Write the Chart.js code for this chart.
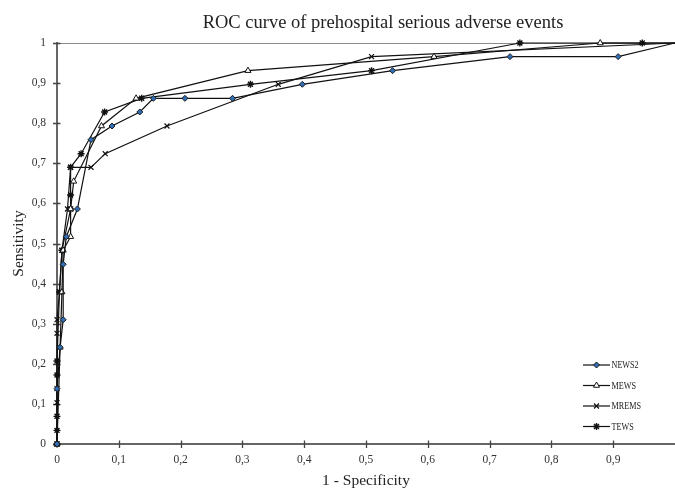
<!DOCTYPE html>
<html><head><meta charset="utf-8">
<script src="https://cdn.jsdelivr.net/npm/chart.js@4"></script>
<style>html,body{margin:0;padding:0;background:#fff}#wrap{width:675px;height:492px}</style>
</head><body><div id="wrap"><canvas id="c" width="675" height="492"></canvas></div>
<script>
const seriesNames = ['NEWS2', 'MEWS', 'MREMS', 'TEWS'];

const news2X = [0, 0, 0.005, 0.010, 0.010, 0.015, 0.033, 0.055, 0.089, 0.134, 0.156, 0.207, 0.284, 0.397, 0.543, 0.733, 0.908, 1];
const news2Y = [0, 0.138, 0.241, 0.310, 0.448, 0.517, 0.586, 0.759, 0.793, 0.828, 0.862, 0.862, 0.862, 0.897, 0.931, 0.966, 0.966, 1];

const mewsX = [0, 0.005, 0.008, 0.010, 0.022, 0.022, 0.027, 0.072, 0.128, 0.309, 0.610, 0.879, 1];
const mewsY = [0, 0.241, 0.379, 0.483, 0.517, 0.586, 0.655, 0.793, 0.862, 0.931, 0.966, 1, 1];

const mremsX = [0, 0, 0, 0, 0, 0.004, 0.008, 0.017, 0.022, 0.055, 0.078, 0.178, 0.358, 0.509, 1];
const mremsY = [0, 0.103, 0.138, 0.276, 0.310, 0.379, 0.483, 0.586, 0.690, 0.690, 0.724, 0.793, 0.897, 0.966, 1];

const tewsX = [0, 0, 0, 0, 0, 0.004, 0.008, 0.022, 0.022, 0.022, 0.039, 0.077, 0.137, 0.313, 0.509, 0.749, 0.947, 1];
const tewsY = [0, 0.034, 0.069, 0.172, 0.207, 0.379, 0.483, 0.586, 0.621, 0.690, 0.724, 0.828, 0.862, 0.897, 0.931, 1, 1, 1];

const xTickLabels = ['0', '0,1', '0,2', '0,3', '0,4', '0,5', '0,6', '0,7', '0,8', '0,9'];
const yTickLabels = ['0', '0,1', '0,2', '0,3', '0,4', '0,5', '0,6', '0,7', '0,8', '0,9', '1'];
const titleText = 'ROC curve of prehospital serious adverse events';
const xTitleText = '1 - Specificity';
const yTitleText = 'Sensitivity';

const FONT = '"Liberation Serif", "Times New Roman", serif';

function pts(xs, ys) { return xs.map((x, i) => ({ x: x, y: ys[i] })); }

const styles = [
  { pointStyle: 'rectRot', radius: 3, bg: '#2f6db5', border: '#1a1a1a', bw: 1 },
  { pointStyle: 'triangle', radius: 3.5, bg: '#ffffff', border: '#111111', bw: 1 },
  { pointStyle: 'crossRot', radius: 3.5, bg: '#111111', border: '#111111', bw: 1.2 },
  { pointStyle: 'star', radius: 3.5, bg: '#111111', border: '#111111', bw: 1.4 }
];
const seriesData = [pts(news2X, news2Y), pts(mewsX, mewsY), pts(mremsX, mremsY), pts(tewsX, tewsY)];

const datasets = seriesNames.map((name, k) => ({
  label: name,
  data: seriesData[k],
  borderColor: '#111111',
  borderWidth: 1.2,
  tension: 0,
  fill: false,
  clip: false,
  pointStyle: styles[k].pointStyle,
  pointRadius: (ctx) => ctx.dataIndex === seriesData[k].length - 1 ? 0 : styles[k].radius,
  pointBackgroundColor: styles[k].bg,
  pointBorderColor: styles[k].border,
  pointBorderWidth: styles[k].bw
}));

const decorPlugin = {
  id: 'decor',
  beforeDatasetsDraw(chart) {
    const ctx = chart.ctx, xs = chart.scales.x, ys = chart.scales.y, a = chart.chartArea;
    ctx.save();
    ctx.strokeStyle = '#8c8c8c';
    ctx.lineWidth = 1;
    ctx.beginPath();
    const yTop = Math.round(ys.getPixelForValue(1)) + 0.5;
    ctx.moveTo(a.left, yTop); ctx.lineTo(a.right, yTop); ctx.stroke();
    ctx.strokeStyle = '#444';
    ctx.lineWidth = 1.3;
    ctx.beginPath();
    xs.ticks.forEach((t, i) => {
      if (i === 0 || i >= xTickLabels.length) return;
      const px = Math.round(xs.getPixelForValue(t.value)) + 0.5;
      ctx.moveTo(px, a.bottom - 3.5); ctx.lineTo(px, a.bottom + 4);
    });
    ys.ticks.forEach((t) => {
      const py = Math.round(ys.getPixelForValue(t.value)) + 0.5;
      ctx.moveTo(a.left - 4, py); ctx.lineTo(a.left + 3.5, py);
    });
    ctx.stroke();
    ctx.restore();
  },
  afterDraw(chart) {
    const ctx = chart.ctx;
    ctx.save();
    ctx.fillStyle = '#222';
    ctx.font = '18.5px ' + FONT;
    ctx.textAlign = 'center';
    ctx.textBaseline = 'alphabetic';
    ctx.fillText(titleText, 383, 28);
    const x0 = 583, x1 = 610, y0 = 365, dy = 20.5;
    seriesNames.forEach((name, k) => {
      const y = y0 + k * dy;
      ctx.strokeStyle = '#111';
      ctx.lineWidth = 1.2;
      ctx.beginPath(); ctx.moveTo(x0, y); ctx.lineTo(x1, y); ctx.stroke();
      ctx.fillStyle = styles[k].bg;
      ctx.strokeStyle = styles[k].border;
      ctx.lineWidth = styles[k].bw;
      Chart.helpers.drawPoint(ctx, { pointStyle: styles[k].pointStyle, radius: styles[k].radius, rotation: 0, borderWidth: styles[k].bw }, (x0 + x1) / 2, y);
      ctx.save();
      ctx.translate(x1 + 1.5, y + 0.5);
      ctx.scale(0.74, 1);
      ctx.fillStyle = '#222';
      ctx.font = '11px ' + FONT;
      ctx.textAlign = 'left';
      ctx.textBaseline = 'middle';
      ctx.fillText(name, 0, 0);
      ctx.restore();
    });
    ctx.restore();
  }
};

new Chart(document.getElementById('c'), {
  type: 'line',
  data: { datasets: datasets },
  options: {
    responsive: false,
    animation: false,
    devicePixelRatio: 1,
    layout: { autoPadding: false, padding: { top: 43, right: 0, left: 0, bottom: 0 } },
    plugins: { legend: { display: false }, title: { display: false }, tooltip: { enabled: false } },
    scales: {
      x: {
        type: 'linear', min: 0, max: 1,
        ticks: {
          stepSize: 0.1, autoSkip: false, maxRotation: 0, padding: 9,
          color: '#333', font: { family: FONT, size: 11.5 },
          callback: (v, i) => (i < xTickLabels.length ? xTickLabels[i] : '')
        },
        grid: { display: true, drawOnChartArea: false, drawTicks: false },
        border: { display: true, color: '#666', width: 2 },
        title: { display: true, text: xTitleText, color: '#222', font: { family: FONT, size: 15.5 }, padding: { top: 0, bottom: 2 } },
        afterFit: (s) => { s.height = 48; s.paddingRight = 0; s.paddingLeft = 0; }
      },
      y: {
        type: 'linear', min: 0, max: 1,
        ticks: {
          stepSize: 0.1, autoSkip: false, padding: 11,
          color: '#333', font: { family: FONT, size: 11.5 },
          callback: (v, i) => (i < yTickLabels.length ? yTickLabels[i] : '')
        },
        grid: { display: true, drawOnChartArea: false, drawTicks: false },
        border: { display: true, color: '#666', width: 2 },
        title: { display: true, text: yTitleText, color: '#222', font: { family: FONT, size: 15.5 }, padding: { top: 10, bottom: 0 } },
        afterFit: (s) => { s.width = 57; s.paddingTop = 0; s.paddingBottom = 0; }
      }
    }
  },
  plugins: [decorPlugin]
});
</script>
</body></html>
